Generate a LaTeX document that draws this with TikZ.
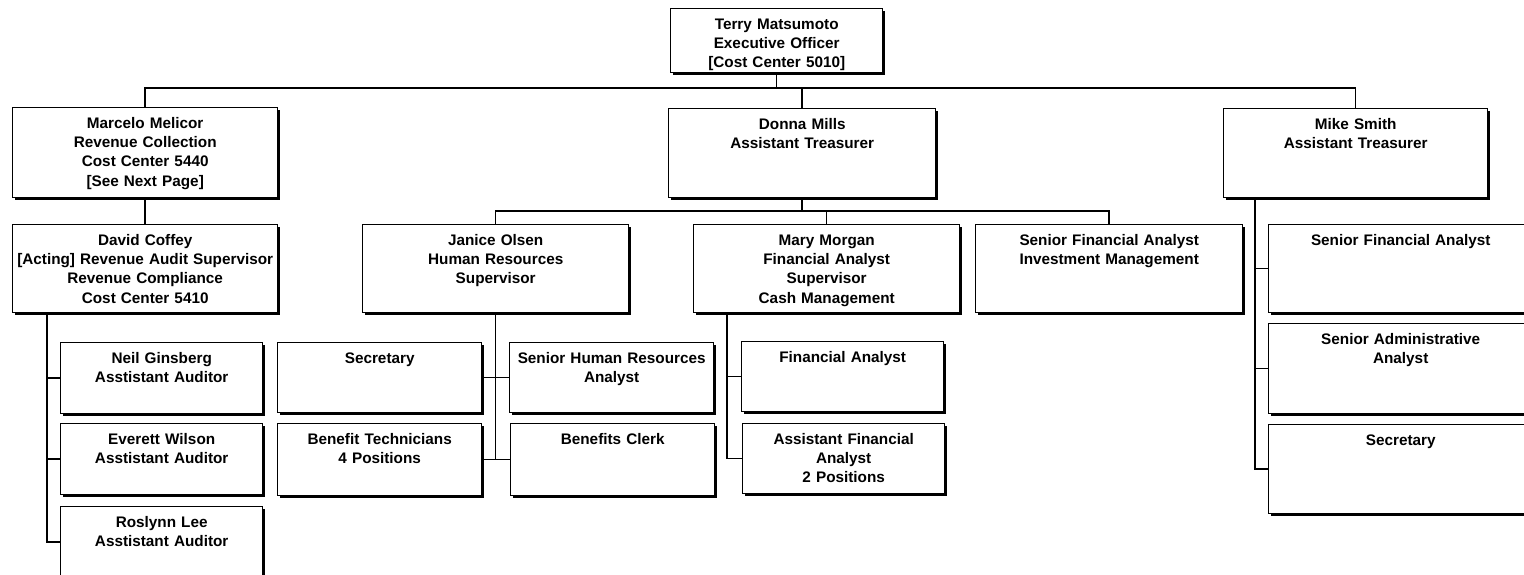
\documentclass[tikz,border=0pt]{standalone}
\usepackage{fontspec}
\setmainfont{Liberation Sans}
\usetikzlibrary{shadows}
\begin{document}
\begin{tikzpicture}[x=0.5pt,y=-0.5pt,
  orgbox/.style 2 args={draw, line width=0.7pt, fill=white, inner sep=0pt,
    anchor=north west, align=center, text width=#1, text height=10.25pt, text depth=#2,
    font=\bfseries\fontsize{7.65}{9.65}\selectfont,
    drop shadow={shadow xshift=0.9pt, shadow yshift=-0.9pt, opacity=1, fill=black}},
  conn/.style={line width=0.75pt}]
\path[use as bounding box] (0,0) rectangle (1524,574);
\fill[white] (0,0) rectangle (1524,574);
\clip (0,0) rectangle (1524,574);

% level 0
\node[orgbox={106pt}{21.75pt}] (terry) at (670,8) {Terry Matsumoto\\Executive Officer\\{[Cost Center 5010]}};
% level 1
\node[orgbox={132.5pt}{34.75pt}] (marcelo) at (12,107) {Marcelo Melicor\\Revenue Collection\\Cost Center 5440\\{[See Next Page]}};
\node[orgbox={133.5pt}{34.25pt}] (donna) at (668,108) {Donna Mills\\Assistant Treasurer};
\node[orgbox={132pt}{34.25pt}] (mike) at (1223,108) {Mike Smith\\Assistant Treasurer};
% level 2
\node[orgbox={132.5pt}{33.75pt}] (david) at (12,224) {David Coffey\\{[Acting]} Revenue Audit Supervisor\\Revenue Compliance\\Cost Center 5410};
\node[orgbox={133pt}{33.75pt}] (janice) at (362,224) {Janice Olsen\\Human Resources\\Supervisor};
\node[orgbox={133pt}{33.75pt}] (mary) at (693,224) {Mary Morgan\\Financial Analyst\\Supervisor\\Cash Management};
\node[orgbox={133.5pt}{33.75pt}] (invest) at (975,224) {Senior Financial Analyst\\Investment Management};
\node[orgbox={132pt}{33.75pt}] (mc1) at (1268,224) {Senior Financial Analyst};
\node[orgbox={132pt}{34.75pt}] (mc2) at (1268,323) {Senior Administrative\\Analyst};
\node[orgbox={132pt}{34.25pt}] (mc3) at (1268,424) {Secretary};
% level 3 left
\node[orgbox={101pt}{25.25pt}] (neil) at (60,342) {Neil Ginsberg\\Asstistant Auditor};
\node[orgbox={101pt}{25.25pt}] (everett) at (60,423) {Everett Wilson\\Asstistant Auditor};
\node[orgbox={101pt}{25.25pt}] (roslynn) at (60,506) {Roslynn Lee\\Asstistant Auditor};
% HR
\node[orgbox={102pt}{24.75pt}] (secretary) at (277,342) {Secretary};
\node[orgbox={102pt}{24.75pt}] (senhr) at (509,342) {Senior Human Resources\\Analyst};
\node[orgbox={102pt}{25.75pt}] (bentech) at (277,423) {Benefit Technicians\\4 Positions};
\node[orgbox={102pt}{25.75pt}] (clerk) at (510,423) {Benefits Clerk};
% cash management
\node[orgbox={101pt}{24.75pt}] (finan) at (741,341) {Financial Analyst};
\node[orgbox={101pt}{24.75pt}] (asstfin) at (742,423) {Assistant Financial\\Analyst\\2 Positions};

% connectors
\coordinate (bus) at (0,88);
\coordinate (subbus) at (0,211);
\coordinate (dv) at (47,312);
\coordinate (mv) at (727,312);
\coordinate (mkv) at (1255,197);

\draw[conn] (terry.south) -- (terry.south |- bus);
\draw[conn] (marcelo.north) -- (marcelo.north |- bus) -| (mike.north);
\draw[conn] (donna.north) -- (donna.north |- bus);
\draw[conn] (marcelo.south) -- (david.north);

\draw[conn] (dv) |- (roslynn.west);
\draw[conn] (neil.west) -- (neil.west -| dv);
\draw[conn] (everett.west) -- (everett.west -| dv);

\draw[conn] (donna.south) -- (donna.south |- subbus);
\draw[conn] (janice.north) -- (janice.north |- subbus) -| (invest.north);
\draw[conn] (mary.north) -- (mary.north |- subbus);

\draw[conn] (janice.south) -- (janice.south |- bentech.east);
\draw[conn] (secretary.east) -- (senhr.west);
\draw[conn] (bentech.east) -- (clerk.west);

\draw[conn] (mv) |- (asstfin.west);
\draw[conn] (finan.west) -- (finan.west -| mv);

\draw[conn] (mkv) |- (mc3.west);
\draw[conn] (mc1.west) -- (mc1.west -| mkv);
\draw[conn] (mc2.west) -- (mc2.west -| mkv);
\end{tikzpicture}
\end{document}
